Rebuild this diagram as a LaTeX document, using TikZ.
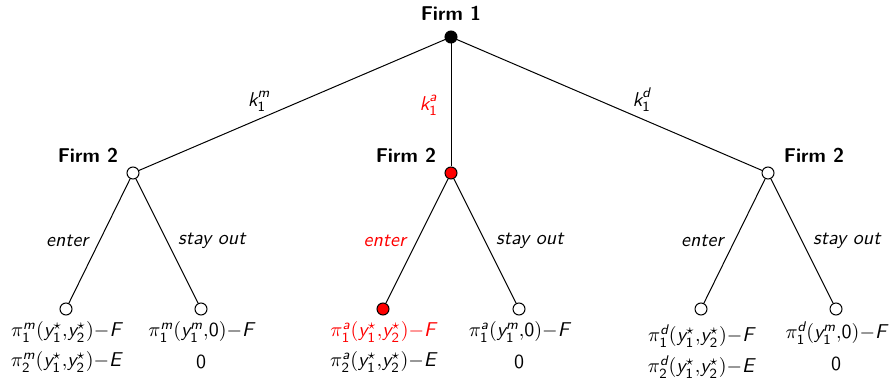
\documentclass[tikz,border=0pt]{standalone}
\usepackage{amsmath}
\newcommand{\sv}[1]{\text{\sffamily\itshape #1}}
\newcommand{\su}[1]{\text{\sffamily #1}}
\newcommand{\mi}{\mathord{-}}
\begin{document}
\begin{tikzpicture}[x=0.5pt,y=-0.5pt,font=\sffamily,
  dot/.style={circle,draw,line width=0.5pt,inner sep=0pt,minimum size=6pt},
  blackdot/.style={dot,fill=black},
  reddot/.style={dot,fill=red},
  opendot/.style={dot,fill=white},
  edge/.style={line width=0.5pt},
  firm/.style={font=\sffamily\bfseries},
  act/.style={font=\sffamily\itshape},
  payoff/.style={inner sep=0.5pt}]
\useasboundingbox (0,0) rectangle (893,379);
% nodes
\node[blackdot] (r) at (451,37) {};
\node[firm] (rl) at (451,13) {Firm 1};
\node[opendot] (a) at (133,173) {};
\node[reddot] (b) at (451,173) {};
\node[opendot] (c) at (768,173) {};
\node[firm] (al) at (88,155) {Firm 2};
\node[firm] (bl) at (406,155) {Firm 2};
\node[firm] (cl) at (814,155) {Firm 2};
\node[opendot] (a1) at (66,309) {};
\node[opendot] (a2) at (201,309) {};
\node[reddot] (b1) at (383,309) {};
\node[opendot] (b2) at (519,309) {};
\node[opendot] (c1) at (701,309) {};
\node[opendot] (c2) at (836,309) {};
% edges
\draw[edge] (r) -- (a) node[pos=0.607,above=0pt] {$\sv{k}^{\sv{m}}_{\su{1}}$};
\draw[edge] (r) -- (b) node[pos=0.5,left=3pt,text=red] {$\sv{k}^{\sv{a}}_{\su{1}}$};
\draw[edge] (r) -- (c) node[pos=0.606,above=0pt] {$\sv{k}^{\sv{d}}_{\su{1}}$};
\draw[edge] (a) -- (a1) node[pos=0.5,act,left=2pt] {enter};
\draw[edge] (a) -- (a2) node[pos=0.5,act,right=2pt] {stay out};
\draw[edge] (b) -- (b1) node[pos=0.5,act,left=2pt,text=red] {enter};
\draw[edge] (b) -- (b2) node[pos=0.5,act,right=2pt] {stay out};
\draw[edge] (c) -- (c1) node[pos=0.5,act,left=2pt] {enter};
\draw[edge] (c) -- (c2) node[pos=0.5,act,right=2pt] {stay out};
% payoffs
\node[payoff] (pa1) at (66,332) {$\pi^{\sv{m}}_{\su{1}}(\sv{y}^{\star}_{\su{1}}{,}\sv{y}^{\star}_{\su{2}})\mi\sv{F}$};
\node[payoff] (qa1) at (66,362) {$\pi^{\sv{m}}_{\su{2}}(\sv{y}^{\star}_{\su{1}}{,}\sv{y}^{\star}_{\su{2}})\mi\sv{E}$};
\node[payoff] (pa2) at (201,332) {$\pi^{\sv{m}}_{\su{1}}(\sv{y}^{\sv{m}}_{\su{1}}{,}\su{0})\mi\sv{F}$};
\node[payoff] (qa2) at (201,362) {0};
\node[payoff,text=red] (pb1) at (383,332) {$\pi^{\sv{a}}_{\su{1}}(\sv{y}^{\star}_{\su{1}}{,}\sv{y}^{\star}_{\su{2}})\mi\sv{F}$};
\node[payoff] (qb1) at (383,362) {$\pi^{\sv{a}}_{\su{2}}(\sv{y}^{\star}_{\su{1}}{,}\sv{y}^{\star}_{\su{2}})\mi\sv{E}$};
\node[payoff] (pb2) at (519,332) {$\pi^{\sv{a}}_{\su{1}}(\sv{y}^{\sv{m}}_{\su{1}}{,}\su{0})\mi\sv{F}$};
\node[payoff] (qb2) at (519,362) {0};
\node[payoff] (pc1) at (701,336) {$\pi^{\sv{d}}_{\su{1}}(\sv{y}^{\star}_{\su{1}}{,}\sv{y}^{\star}_{\su{2}})\mi\sv{F}$};
\node[payoff] (qc1) at (701,367) {$\pi^{\sv{d}}_{\su{2}}(\sv{y}^{\star}_{\su{1}}{,}\sv{y}^{\star}_{\su{2}})\mi\sv{E}$};
\node[payoff] (pc2) at (836,333) {$\pi^{\sv{d}}_{\su{1}}(\sv{y}^{\sv{m}}_{\su{1}}{,}\su{0})\mi\sv{F}$};
\node[payoff] (qc2) at (836,364) {0};
\end{tikzpicture}
\end{document}
